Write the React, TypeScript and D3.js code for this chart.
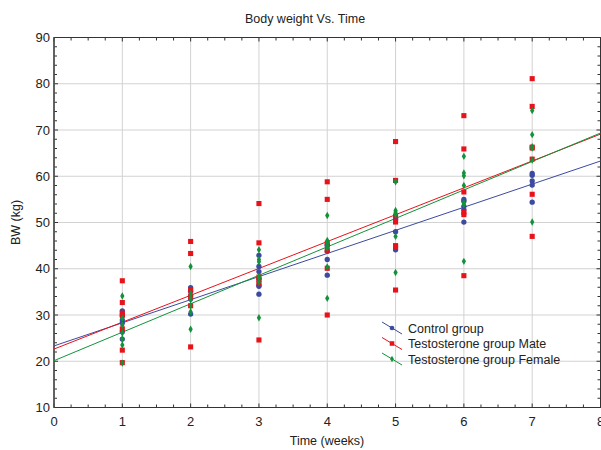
import React from "react";
import * as d3 from "d3";

const weeks = [1, 2, 3, 4, 5, 6, 7];

// body weight (kg) per week, one array per week
const control = [
  [30.9, 28.9, 28.3, 26.4, 24.8, 29.8],
  [35.9, 35.1, 34.2, 30.2, 33.5],
  [42.9, 40.5, 39.4, 36.5, 36.2, 34.5, 37.8],
  [43.8, 42.0, 38.6, 44.9, 45.2],
  [48.0, 44.1, 50.6, 51.0],
  [55.0, 54.6, 52.8, 50.1, 53.5],
  [60.6, 60.2, 59.0, 58.1, 54.4],
];
const male = [
  [37.4, 32.7, 30.4, 30.0, 27.0, 22.4, 19.7],
  [45.9, 43.3, 35.4, 32.0, 23.1, 34.0],
  [54.1, 45.6, 37.6, 36.8, 24.6, 38.2],
  [58.8, 55.0, 40.1, 30.0, 45.5, 44.0],
  [67.5, 59.1, 51.4, 50.1, 45.0, 44.7, 35.4],
  [73.1, 65.9, 56.6, 52.2, 51.7, 38.5],
  [81.1, 75.1, 66.1, 63.7, 56.1, 47.0, 66.3],
];
const female = [
  [34.1, 29.3, 27.8, 26.1, 23.5, 19.6, 24.8],
  [40.5, 34.6, 33.8, 33.3, 30.7, 26.9, 32.0],
  [44.1, 42.0, 41.5, 38.3, 37.2, 29.4, 38.0],
  [51.5, 46.1, 45.6, 45.0, 44.5, 40.4, 33.6],
  [58.8, 52.6, 52.2, 51.7, 47.0, 39.2],
  [64.3, 60.7, 60.1, 58.0, 54.3, 53.9, 41.6],
  [74.2, 69.0, 66.4, 66.1, 63.5, 50.1],
];

const groups = [
  { name: "Control group", values: control, color: "#3c4aa0", symbol: d3.symbolCircle, size: 22 },
  { name: "Testosterone group Mate", values: male, color: "#e8121a", symbol: d3.symbolSquare, size: 26 },
  { name: "Testosterone group Female", values: female, color: "#12923a", symbol: d3.symbolDiamond, size: 16 },
];

const W = 601;
const H = 450;
const m = { left: 54, right: 0.5, top: 37.5, bottom: 42.5 };

function fit(values: number[][]) {
  const pts: [number, number][] = [];
  values.forEach((arr, i) => arr.forEach((v) => pts.push([weeks[i], v])));
  const mx = d3.mean(pts, (p) => p[0])!;
  const my = d3.mean(pts, (p) => p[1])!;
  const sxy = d3.sum(pts, (p) => (p[0] - mx) * (p[1] - my));
  const sxx = d3.sum(pts, (p) => (p[0] - mx) ** 2);
  const b = sxy / sxx;
  return { a: my - b * mx, b };
}

export default function App() {
  const x = d3.scaleLinear().domain([0, 8]).range([m.left, W - m.right]);
  const y = d3.scaleLinear().domain([10, 90]).range([H - m.bottom, m.top]);
  const xMajor = d3.range(0, 9);
  const yMajor = d3.range(10, 91, 10);
  const xMinor = d3.range(0, 8.01, 0.25);
  const yMinor = d3.range(10, 90.01, 2);
  const line = d3.line<number>().x((d) => x(d)).y((d) => d);
  const font = "Liberation Sans, Arial, sans-serif";

  return (
    <svg width={W} height={H} style={{ position: "absolute", left: 0, top: 0 }} fontFamily={font}>
      <rect width={W} height={H} fill="#fff" />
      <defs>
        <clipPath id="plot">
          <rect x={m.left} y={m.top} width={W - m.left} height={y(10) - m.top} />
        </clipPath>
      </defs>
      {/* grid */}
      {xMajor.map((t) => (
        <line key={"gx" + t} x1={x(t)} x2={x(t)} y1={y(10)} y2={y(90)} stroke="#d2d2d2" />
      ))}
      {yMajor.map((t) => (
        <line key={"gy" + t} x1={x(0)} x2={x(8)} y1={y(t)} y2={y(t)} stroke="#d2d2d2" />
      ))}
      {/* minor ticks, inward */}
      {xMinor.map((t) => (
        <g key={"tx" + t} stroke="#333">
          <line x1={x(t)} x2={x(t)} y1={y(10)} y2={y(10) - (t % 1 === 0 ? 4 : 3)} />
          <line x1={x(t)} x2={x(t)} y1={y(90)} y2={y(90) + (t % 1 === 0 ? 4 : 3)} />
        </g>
      ))}
      {yMinor.map((t) => (
        <g key={"ty" + t} stroke="#333">
          <line x1={x(0)} x2={x(0) + (t % 10 === 0 ? 4 : 3)} y1={y(t)} y2={y(t)} />
          <line x1={x(8)} x2={x(8) - (t % 10 === 0 ? 4 : 3)} y1={y(t)} y2={y(t)} />
        </g>
      ))}
      <rect x={x(0)} y={y(90)} width={x(8) - x(0)} height={y(10) - y(90)} fill="none" stroke="#333" />
      <line x1={x(0)} x2={x(0)} y1={y(10)} y2={y(90)} stroke="#555" strokeWidth={1.5} />
      {/* fit lines */}
      <g clipPath="url(#plot)">
        {groups.map((g) => {
          const f = fit(g.values);
          return (
            <path
              key={"fit" + g.name}
              d={line.y((d) => y(f.a + f.b * d))([0, 8]) || ""}
              stroke={g.color}
              strokeWidth={1}
              fill="none"
            />
          );
        })}
      </g>
      {/* points */}
      {groups.map((g) => (
        <g key={"pts" + g.name} fill={g.color}>
          {g.values.map((arr, i) =>
            arr.map((v, j) => (
              <path
                key={i + "-" + j}
                transform={`translate(${x(weeks[i])},${y(v)})`}
                d={d3.symbol(g.symbol, g.size)() || ""}
              />
            ))
          )}
        </g>
      ))}
      {/* tick labels */}
      {xMajor.map((t) => (
        <text key={"lx" + t} x={x(t)} y={426} textAnchor="middle" fontSize={13} fill="#222">
          {t}
        </text>
      ))}
      {yMajor.map((t) => (
        <text key={"ly" + t} x={50} y={y(t) + 4.5} textAnchor="end" fontSize={13} fill="#222">
          {t}
        </text>
      ))}
      <text x={305} y={23} textAnchor="middle" fontSize={12.5} fill="#222">
        Body weight Vs. Time
      </text>
      <text x={327} y={445} textAnchor="middle" fontSize={12.5} fill="#222">
        Time (weeks)
      </text>
      <text transform={`translate(20,${(y(10) + y(90)) / 2}) rotate(-90)`} textAnchor="middle" fontSize={12.5} fill="#222">
        BW (kg)
      </text>
      {/* legend */}
      {groups.map((g, i) => {
        const ly = 328 + i * 15.5;
        return (
          <g key={"lg" + g.name}>
            <line x1={382} x2={402} y1={ly - 6} y2={ly + 6} stroke={g.color} />
            <path transform={`translate(392,${ly})`} d={d3.symbol(g.symbol, g.size * 0.8)() || ""} fill={g.color} />
            <text x={408} y={ly + 4.5} fontSize={12.5} fill="#222">
              {g.name}
            </text>
          </g>
        );
      })}
    </svg>
  );
}
